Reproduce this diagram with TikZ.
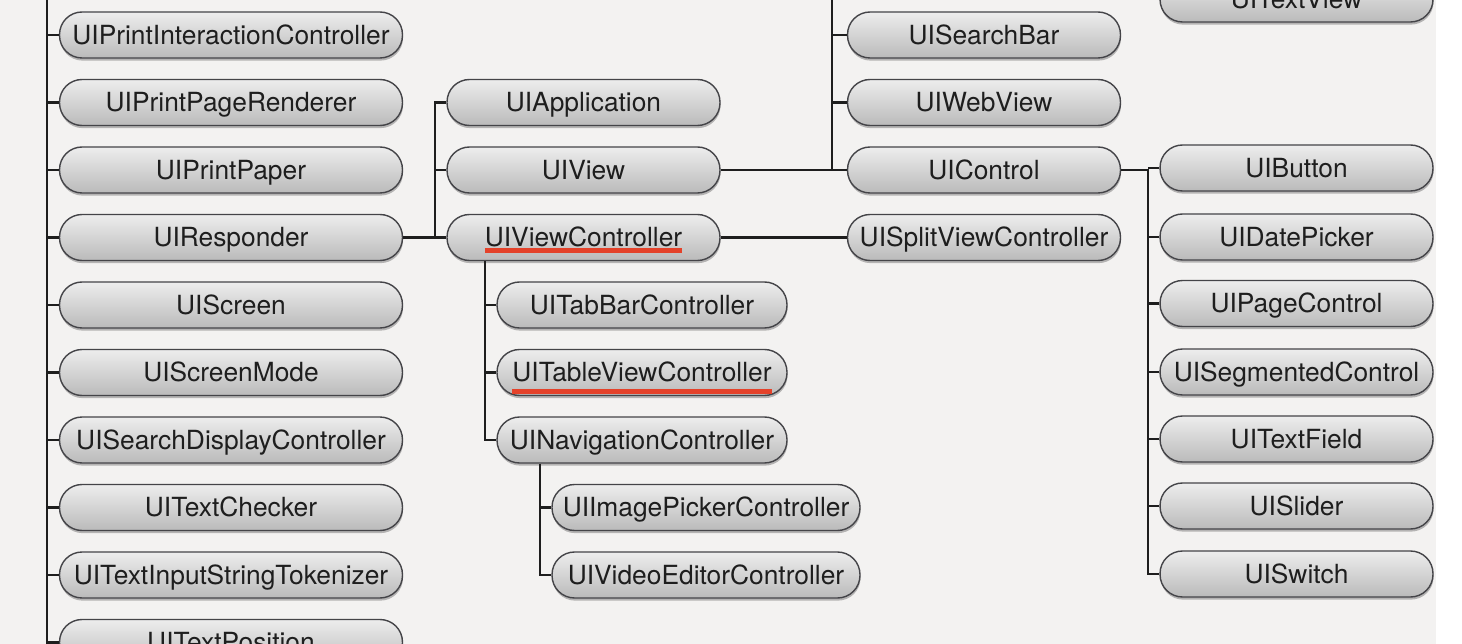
\documentclass[tikz,border=0pt]{standalone}
\usepackage{fontspec}
\setmainfont{TeX Gyre Heros}
\definecolor{bgpaper}{RGB}{243,242,241}
\definecolor{pillline}{RGB}{68,68,72}
\definecolor{treeline}{RGB}{30,30,30}
\definecolor{pilltext}{RGB}{30,30,30}
\definecolor{markred}{RGB}{228,66,42}
\usetikzlibrary{shadows}
\newcommand{\redmark}[2]{\setbox0\hbox{#2}\rlap{\color{markred}\rule[-#1]{\wd0}{2.6pt}}\box0}

\begin{document}
\begin{tikzpicture}[x=0.02cm, y=-0.02cm,
  pill/.style={rectangle, rounded corners=0.45cm, draw=pillline, line width=0.8pt, top color=black!7, middle color=black!1, bottom color=black!27, minimum height=0.92cm, inner sep=0pt, text=pilltext, text height=11.5pt, text depth=1pt, font=\fontsize{15}{17}\selectfont, drop shadow={shadow xshift=0.3pt, shadow yshift=-1.5pt, opacity=0.35, fill=black!75}},
  pillroot/.style={pill, minimum width=6.86cm},
  pillmid/.style={pill, minimum width=5.46cm},
  pillsub/.style={pill, minimum width=5.8cm},
  pillnav/.style={pill, minimum width=6.16cm},
  link/.style={draw=treeline, line width=1.3pt}]
\fill[white] (0,0) rectangle (1462,644);
\fill[bgpaper] (0,0) rectangle (1436,644);
\clip (0,0) rectangle (1462,644);

\node[pillroot] (pic) at (231,35) {UIPrintInteractionController};
\node[pillroot] (ppr) at (231,102.5) {UIPrintPageRenderer};
\node[pillroot] (ppa) at (231,170) {UIPrintPaper};
\node[pillroot] (resp) at (231,237.5) {UIResponder};
\node[pillroot] (scr) at (231,305) {UIScreen};
\node[pillroot] (scm) at (231,372.5) {UIScreenMode};
\node[pillroot] (sdc) at (231,440) {UISearchDisplayController};
\node[pillroot] (tch) at (231,507.5) {UITextChecker};
\node[pillroot] (tist) at (231,575) {UITextInputStringTokenizer};
\node[pillroot] (tpos) at (231,642.5) {UITextPosition};

\node[pillmid] (app) at (583.5,102.5) {UIApplication};
\node[pillmid] (view) at (583.5,170) {UIView};
\node[pillmid] (vc) at (583.5,237.5) {\redmark{3.5pt}{UIViewController}};

\node[pillmid] (sbar) at (984,35) {UISearchBar};
\node[pillmid] (web) at (984,102.5) {UIWebView};
\node[pillmid] (ctrl) at (984,170) {UIControl};
\node[pillmid] (svc) at (984,237.5) {UISplitViewController};

\node[pillsub] (tab) at (642,305) {UITabBarController};
\node[pillsub] (tvc) at (642,372.5) {\redmark{7pt}{UITableViewController}};
\node[pillsub] (nav) at (642,440) {UINavigationController};

\node[pillnav] (imgp) at (706,507.5) {UIImagePickerController};
\node[pillnav] (video) at (706,575) {UIVideoEditorController};

\node[pillmid] (tv) at (1296.5,-1) {UITextView};
\node[pillmid] (btn) at (1296.5,168) {UIButton};
\node[pillmid] (date) at (1296.5,237) {UIDatePicker};
\node[pillmid] (page) at (1296.5,303.5) {UIPageControl};
\node[pillmid] (seg) at (1296.5,372) {UISegmentedControl};
\node[pillmid] (tfield) at (1296.5,439) {UITextField};
\node[pillmid] (slider) at (1296.5,506) {UISlider};
\node[pillmid] (switch) at (1296.5,574) {UISwitch};

\coordinate (trunktop) at (47,-10);
\coordinate (trunkend) at (47,660);
\coordinate (respx) at (435,0);
\coordinate (viewx) at (832,-10);
\coordinate (vcx) at (485,0);
\coordinate (navx) at (540,0);
\coordinate (ctrlx) at (1148,0);
\coordinate (tvx) at (1150,-40);

\draw[link] (trunktop) -- (trunkend);
\foreach \n in {pic,ppr,ppa,resp,scr,scm,sdc,tch,tist,tpos}
  \draw[link] (trunktop |- \n.west) -- (\n.west);

\draw[link] (resp.east) -- (vc.west);
\draw[link] (app.west) -| (respx |- vc.west);
\draw[link] (view.west) -- (respx |- view.west);

\draw[link] (view.east) -- (ctrl.west);
\draw[link] (viewx) -- (viewx |- ctrl.west);
\draw[link] (sbar.west) -- (viewx |- sbar.west);
\draw[link] (web.west) -- (viewx |- web.west);
\draw[link] (vc.east) -- (svc.west);

\draw[link] (vcx |- vc.south) |- (nav.west);
\draw[link] (tab.west) -- (vcx |- tab.west);
\draw[link] (tvc.west) -- (vcx |- tvc.west);

\draw[link] (navx |- nav.south) |- (video.west);
\draw[link] (imgp.west) -- (navx |- imgp.west);

\draw[link] (tvx) |- (tv.west);
\draw[link] (ctrl.east) -- (ctrlx |- ctrl.east) |- (switch.west);
\foreach \n in {btn,date,page,seg,tfield,slider}
  \draw[link] (\n.west) -- (ctrlx |- \n.west);
\end{tikzpicture}
\end{document}
